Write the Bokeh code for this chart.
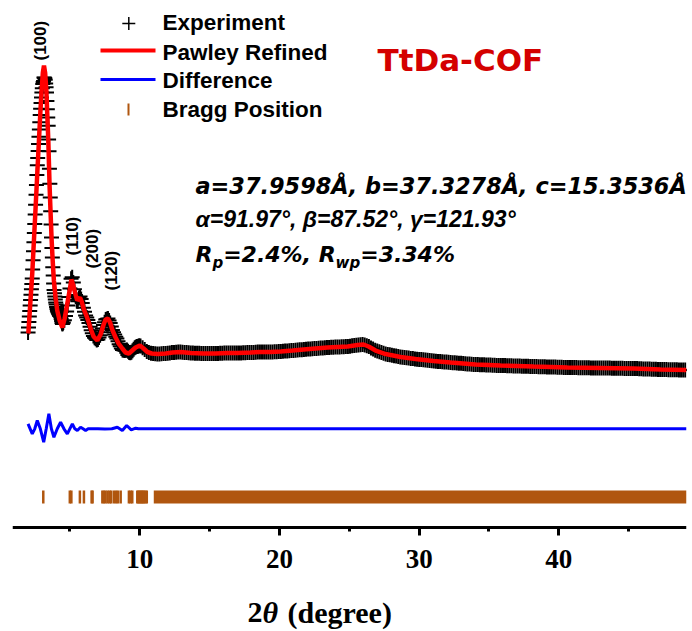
import numpy as np
from bokeh.plotting import figure
from bokeh.models import Range1d, FixedTicker, Label
from bokeh.embed import file_html
from bokeh.resources import INLINE

# ---------------- data ----------------
# Experiment: step-scan segments (start, step) with intensities (a.u.)
exp_seg1_start, exp_seg1_step = 2.00, 0.03
exp_seg1_y = [650, 700, 756, 811, 865, 920, 974, 1028, 1082, 1136, 1190, 1280, 1372, 1462, 1553,
              1644, 1735, 1831, 1928, 2027, 2125, 2224, 2323, 2394, 2465, 2536, 2608, 2680, 2753, 2826,
              2888, 2944, 3001, 3049, 3092, 3135, 3156, 3166, 3201, 3197, 3193, 3178, 3140, 3103, 3050,
              2966, 2883, 2800, 2717, 2579, 2462, 2287, 2137, 1999, 1862, 1730, 1601, 1496, 1399, 1303,
              1221, 1140, 1076, 1043, 1011, 979, 950, 929, 906, 885, 867, 857, 848, 838, 830,
              820, 815, 813, 804, 784, 765, 745, 735, 743]
exp_seg2_start, exp_seg2_step = 4.52, 0.08
exp_seg2_y = [751, 773, 814, 860, 921, 1005, 1091, 1187, 1202, 1150, 1082, 1025, 977, 963, 996,
              1010, 985, 945, 898, 858, 821, 801, 776, 745, 708, 673, 642, 614, 598, 588,
              576, 580, 601, 622, 653, 689, 725, 752, 781, 785, 790, 769, 746, 710, 674,
              653, 630, 608, 589, 562, 533, 512, 490, 474, 472, 471, 472, 476, 462, 449,
              447, 453, 468, 483, 497, 506, 509, 513, 517]
exp_seg3_start, exp_seg3_step = 10.05, 0.15
exp_seg3_y = [515, 498, 480, 460, 450, 442, 439, 437, 435, 436, 437, 439, 440, 443, 446,
              449, 451, 452, 454, 455, 453, 451, 449, 447, 445, 444, 443, 443, 442, 441,
              440, 440, 440, 440, 440, 440, 440, 441, 442, 443, 444, 445, 445, 445, 445,
              445, 445, 446, 446, 447, 448, 449, 450, 450, 451, 452, 454, 455, 455, 455,
              455, 455, 455, 456, 457, 458, 459, 460, 462, 464, 465, 467, 469, 471, 473,
              475, 477, 478, 480, 482, 484, 486, 487, 489, 491, 493, 494, 496, 498, 500,
              501, 502, 503, 504, 505, 506, 507, 508, 509, 510, 513, 517, 520, 523, 526,
              527, 529, 526, 517, 509, 496, 484, 472, 464, 457, 450, 442, 435, 431, 427,
              422, 418, 414, 410, 405, 403, 400, 397, 394, 391, 389, 386, 383, 381, 379,
              377, 374, 372, 370, 367, 365, 363, 361, 359, 357, 356, 354, 352, 350, 348,
              347, 345, 343, 342, 340, 338, 336, 335, 333, 331, 330, 329, 328, 327, 327,
              326, 325, 324, 323, 322, 321, 321, 320, 319, 319, 318, 317, 317, 316, 315,
              315, 314, 313, 313, 312, 312, 311, 310, 310, 309, 308, 308, 307, 307, 306,
              305, 305, 304, 304, 303, 302, 302, 301, 301, 300, 300, 299, 299, 299, 298,
              298, 298, 297, 297, 297, 296, 296, 296, 295, 295, 295, 295, 294, 294, 294,
              293, 293, 293, 292, 292, 292, 291, 291, 291, 290, 290, 290, 289, 288, 287,
              286, 286, 285, 284, 283, 282, 282, 281, 280, 280, 279, 279, 278, 278, 277,
              277, 277, 276, 276, 275, 275]

# Pawley refined profile
fit_x = [2.02, 2.15, 2.30, 2.42, 2.54, 2.66, 2.78, 2.88, 2.97, 3.06, 3.14, 3.22, 3.31, 3.38, 3.45,
         3.50, 3.54, 3.62, 3.69, 3.77, 3.85, 3.97, 4.09, 4.26, 4.45, 4.62, 4.81, 4.98, 5.10, 5.22,
         5.38, 5.52, 5.62, 5.72, 5.84, 6.00, 6.20, 6.35, 6.50, 6.69, 6.96, 7.19, 7.41, 7.55, 7.72,
         7.87, 8.05, 8.27, 8.48, 8.75, 8.98, 9.22, 9.46, 9.70, 10.01, 10.27, 10.54, 10.85, 11.27, 11.85,
         12.35, 12.92, 13.64, 14.57, 15.43, 16.28, 17.00, 17.93, 18.65, 19.36, 20.08, 20.94, 21.73, 22.58, 23.44,
         24.16, 24.88, 25.59, 26.02, 26.38, 26.88, 27.60, 28.67, 29.74, 31.03, 32.25, 34.04, 35.83, 38.19, 40.62,
         42.98, 45.35, 47.28, 49.14]
fit_y = [640, 920, 1240, 1570, 1900, 2240, 2570, 2850, 3070, 3250, 3320, 3250, 3070, 2820, 2570,
         2320, 2120, 1820, 1570, 1350, 1170, 1000, 870, 770, 700, 790, 940, 1070, 1180, 1130,
         1040, 970, 985, 1000, 960, 880, 810, 750, 680, 610, 570, 630, 730, 780, 790,
         750, 670, 600, 540, 490, 450, 440, 470, 500, 520, 490, 455, 440, 435, 440,
         450, 455, 445, 440, 440, 445, 445, 450, 455, 455, 460, 470, 480, 490, 500,
         505, 510, 525, 530, 510, 470, 435, 405, 385, 365, 350, 330, 320, 310, 300,
         295, 290, 280, 275]

# Difference (Experiment - Pawley), drawn with an offset
diff_offset = -313
diff_x = [2.00, 2.15, 2.30, 2.48, 2.66, 2.88, 3.12, 3.30, 3.49, 3.67, 3.85, 4.09, 4.33, 4.57, 4.81,
          4.99, 5.17, 5.35, 5.53, 5.65, 5.76, 5.94, 6.12, 6.30, 7.00, 7.50, 8.00, 8.39, 8.75, 9.06,
          9.39, 9.70, 9.90, 49.14]
diff_y = [50, 0, -50, 0, 83, 0, -134, 0, 150, 0, -84, 0, 66, 0, -50,
          0, 50, 0, -17, 0, 16, 0, -17, 0, 0, -3, 0, 16, -17, 33,
          -10, 6, 0, 0]

# Bragg positions (2theta); beyond ~11 deg the reflections merge into a continuous band
bragg_pos = [3.09, 4.99, 5.10, 5.71, 6.00, 6.55, 6.62, 7.32, 7.43, 7.55, 7.70, 7.84, 7.95,
             8.15, 8.30, 8.43, 8.63, 9.22, 9.34, 9.46, 9.82, 9.90, 9.98, 10.06, 10.14, 10.22,
             10.30, 10.40, 10.50]
bragg_dense = [11.0, 49.14]

hkl_labels = ["(100)", "(110)", "(200)", "(120)"]
legend_labels = ["Experiment", "Pawley Refined", "Difference", "Bragg Position"]
tick_values = [10, 20, 30, 40]
minor_tick_values = [5, 15, 25, 35, 45]

# ---------------- layout helpers (pixel -> data) ----------------
W, H = 692, 631
X0, X1 = 0.886, 49.14
FL, FW = 12, 674
Y1 = 3970            # value at the top edge of the frame
UNITS_PER_PX = 10.0  # vertical scale
Y0 = Y1 - H * UNITS_PER_PX
AXIS_PY = 527        # page row of the x axis line
BASE_SHIFT = 0.34    # Label baseline correction (fraction of font size)


def xd(px):
    return X0 + (px - FL) * (X1 - X0) / FW


def yd(py):
    return Y1 - py * UNITS_PER_PX


def ybase(py, fs):
    return yd(py - BASE_SHIFT * fs)


BLACK = "#000000"
RED = "#FF0000"
BLUE = "#0000FF"
BROWN = "#B0560F"

p = figure(width=W, height=H, x_range=Range1d(X0, X1), y_range=Range1d(Y0, Y1),
           output_backend="svg", toolbar_location=None, y_axis_location=None,
           min_border_left=FL, min_border_right=W - FL - FW, min_border_top=0,
           min_border_bottom=0, outline_line_color=None,
           background_fill_color="white", border_fill_color="white")
p.grid.visible = False

# experiment
exp_x = np.concatenate([
    exp_seg1_start + exp_seg1_step * np.arange(len(exp_seg1_y)),
    exp_seg2_start + exp_seg2_step * np.arange(len(exp_seg2_y)),
    exp_seg3_start + exp_seg3_step * np.arange(len(exp_seg3_y)),
])
exp_y = np.array(exp_seg1_y + exp_seg2_y + exp_seg3_y, dtype=float)
p.scatter(exp_x, exp_y, marker="cross", size=15, line_color=BLACK, line_width=2)

# fit
p.line(fit_x, fit_y, line_color=RED, line_width=4.5)

# difference
p.line(diff_x, [diff_offset + d for d in diff_y], line_color=BLUE, line_width=3)

# Bragg ticks
b_lo, b_hi = yd(503), yd(490)
p.segment(x0=bragg_pos, y0=[b_lo] * len(bragg_pos), x1=bragg_pos, y1=[b_hi] * len(bragg_pos),
          line_color=BROWN, line_width=2.5)
p.quad(left=[bragg_dense[0]], right=[bragg_dense[1]], bottom=[b_lo], top=[b_hi],
       fill_color=BROWN, line_color=None)

# axis (fixed inside the frame so the title below it can be placed freely)
ax = p.xaxis[0]
ax.fixed_location = yd(AXIS_PY)
ax.ticker = FixedTicker(ticks=tick_values, minor_ticks=minor_tick_values)
ax.axis_line_width = 3
ax.axis_line_color = BLACK
ax.major_tick_line_width = 3
ax.minor_tick_line_width = 3
ax.major_tick_out = 8
ax.major_tick_in = 0
ax.minor_tick_out = 4
ax.minor_tick_in = 0
ax.major_label_text_font = "Liberation Serif"
ax.major_label_text_font_size = "27px"
ax.major_label_text_font_style = "bold"
ax.major_label_text_color = BLACK
ax.major_label_standoff = 14

# axis title: "2" + italic theta + " (degree)"
for txt, px, style in [("2", 247, "bold"), ("θ", 262, "bold italic"), ("(degree)", 287, "bold")]:
    p.add_layout(Label(x=xd(px), y=ybase(622, 30), text=txt, text_font="Liberation Serif",
                       text_font_size="30px", text_font_style=style, text_color=BLACK,
                       text_baseline="alphabetic"))

# legend (manual)
p.scatter([xd(128.3)], [yd(23)], marker="cross", size=13, line_color=BLACK, line_width=1.5)
p.line([xd(100), xd(155)], [yd(50), yd(50)], line_color=RED, line_width=4)
p.line([xd(100), xd(155)], [yd(79), yd(79)], line_color=BLUE, line_width=3)
p.segment(x0=[xd(128)], y0=[yd(115)], x1=[xd(128)], y1=[yd(103)], line_color=BROWN, line_width=2)
for lab, base in zip(legend_labels, [30, 59.3, 87.7, 116.7]):
    p.add_layout(Label(x=xd(162), y=ybase(base, 22.5), text=lab, text_font="Liberation Sans",
                       text_font_size="22.5px", text_font_style="bold", text_color=BLACK,
                       text_baseline="alphabetic", text_align="left"))

# hkl labels
for lab, cx, bottom in zip(hkl_labels, [40, 72, 92, 110.5], [60, 255, 268, 290]):
    p.add_layout(Label(x=xd(cx), y=yd(bottom), text=lab, angle=np.pi / 2,
                       text_font="Liberation Sans", text_font_size="17px", text_font_style="bold",
                       text_color=BLACK, text_align="left", text_baseline="middle"))

# title
p.add_layout(Label(x=xd(377), y=ybase(70, 31), text="TtDa-COF", text_font="DejaVu Sans",
                   text_font_size="31px", text_font_style="bold", text_color="#D40000",
                   text_baseline="alphabetic"))

# cell parameters
p.add_layout(Label(x=xd(195), y=ybase(193.3, 22), text="a=37.9598Å, b=37.3278Å, c=15.3536Å",
                   text_font="DejaVu Sans", text_font_size="22.4px", text_font_style="bold italic",
                   text_color=BLACK, text_baseline="alphabetic"))
p.add_layout(Label(x=xd(195), y=ybase(226.7, 23), text="α=91.97°, β=87.52°, γ=121.93°",
                   text_font="Liberation Sans", text_font_size="23px", text_font_style="bold italic",
                   text_color=BLACK, text_baseline="alphabetic"))
# R_p=2.4%, R_wp=3.34%  (DejaVu Sans Bold Oblique advance widths in em)
line3 = [("R", 0.770, False), ("p", 0.716, True), ("=2.4%, ", 4.340, False),
         ("R", 0.770, False), ("wp", 1.640, True), ("=3.34%", 4.308, False)]
cx = 195.0
for txt, em, sub in line3:
    fs = 15 if sub else 22
    base = 268 if sub else 261
    p.add_layout(Label(x=xd(cx), y=ybase(base, fs), text=txt, text_font="DejaVu Sans",
                       text_font_size=f"{fs}px", text_font_style="bold italic",
                       text_color=BLACK, text_baseline="alphabetic"))
    cx += em * fs

open("out.html", "w").write(file_html(p, INLINE))
